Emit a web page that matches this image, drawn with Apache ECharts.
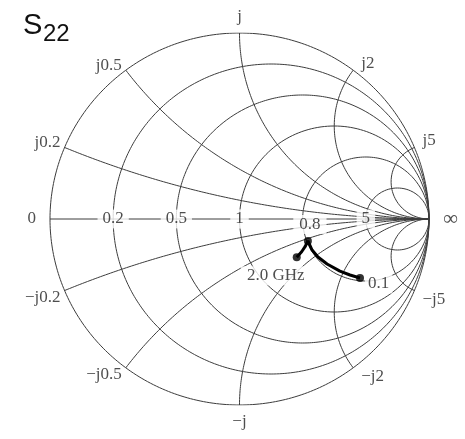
<!DOCTYPE html>
<html>
<head>
<meta charset="utf-8">
<title>S22</title>
<style>
  html, body { margin: 0; padding: 0; background: #fff; }
  #chart { width: 465px; height: 439px; }
</style>
</head>
<body>
<div id="chart"></div>
<script src="https://cdn.jsdelivr.net/npm/echarts@6/dist/echarts.min.js"></script>
<script>
// Smith chart grid values
var resistances = [0.2, 0.5, 1, 2, 5];
var resistanceLabels = ['0.2', '0.5', '1', '', '5'];
var reactances = [0.2, 0.5, 1, 2, 5];
var reactanceLabels = ['0.2', '0.5', '', '2', '5'];

// S22 trace, reflection coefficient (real / imag), from 0.1 GHz to 2.0 GHz
var s22Re = [0.636, 0.583, 0.530, 0.462, 0.414, 0.383, 0.361, 0.346, 0.328, 0.302];
var s22Im = [-0.317, -0.301, -0.280, -0.242, -0.204, -0.167, -0.118, -0.149, -0.176, -0.206];
var markIndex = [0, 6, 9];
var markLabels = ['0.1', '0.8', '2.0 GHz'];

var GRID_COLOR = '#3c3c3c';
var SERIF = '"Liberation Serif", "Times New Roman", serif';

// gamma = (z - 1) / (z + 1)
function gamma(r, x) {
  var a = r - 1, c = r + 1;
  var den = c * c + x * x;
  return [(a * c + x * x) / den, (x * c - a * x) / den];
}

function gridLine(points) {
  return {
    type: 'line', data: points, showSymbol: false, silent: true,
    animation: false, z: 1,
    lineStyle: { color: GRID_COLOR, width: 1 }
  };
}

var series = [];

// outer circle and constant-resistance circles
[0].concat(resistances).forEach(function (r) {
  var pts = [];
  var cx = r / (r + 1), rad = 1 / (r + 1);
  for (var i = 0; i <= 360; i++) {
    var t = i * Math.PI / 180;
    pts.push([cx + rad * Math.cos(t), rad * Math.sin(t)]);
  }
  series.push(gridLine(pts));
});

// constant-reactance arcs
reactances.forEach(function (x) {
  [x, -x].forEach(function (xx) {
    var pts = [];
    for (var i = 0; i < 400; i++) {
      var s = i / 400;
      pts.push(gamma(s / (1 - s), xx));
    }
    pts.push([1, 0]);
    series.push(gridLine(pts));
  });
});

// real axis
series.push(gridLine([[-1, 0], [1, 0]]));

// labels on the real axis
var axisLabelData = [
  { value: [-1, 0], label: { formatter: '0', position: 'left', distance: 9, backgroundColor: 'transparent' } },
  { value: [1, 0], label: { formatter: '\u221e', position: 'right', distance: 9, fontSize: 21, backgroundColor: 'transparent' } }
];
resistances.forEach(function (r, i) {
  if (!resistanceLabels[i]) return;
  axisLabelData.push({ value: [(r - 1) / (r + 1), 0], label: { formatter: resistanceLabels[i] } });
});
series.push({
  type: 'scatter', data: axisLabelData, symbolSize: 0, silent: true, animation: false, z: 3,
  label: {
    show: true, position: 'inside', color: '#222', fontFamily: SERIF, fontSize: 17,
    backgroundColor: '#fff', padding: [1, 5]
  }
});

// labels at the ends of the reactance arcs
var reactLabelData = [];
reactances.forEach(function (x, i) {
  [1, -1].forEach(function (sg) {
    var p = gamma(0, sg * x);
    var txt = (sg > 0 ? 'j' : '\u2212j') + reactanceLabels[i];
    var pos, off = [0, 0], dist = 5;
    if (p[0] < -0.1) { pos = 'left'; dist = 4; off = [0, sg > 0 ? -5 : 7]; }
    else if (p[0] > 0.1) { pos = 'right'; dist = 8; off = [0, sg > 0 ? -7 : 9]; }
    else { pos = sg > 0 ? 'top' : 'bottom'; dist = 8; }
    reactLabelData.push({ value: p, label: { formatter: txt, position: pos, distance: dist, offset: off } });
  });
});
series.push({
  type: 'scatter', data: reactLabelData, symbolSize: 0, silent: true, animation: false, z: 3,
  label: { show: true, color: '#222', fontFamily: SERIF, fontSize: 17 }
});

// S22 trace
var trace = s22Re.map(function (v, i) { return [v, s22Im[i]]; });
series.push({
  type: 'line', data: trace, showSymbol: false, silent: true, animation: false, z: 5,
  lineStyle: { color: '#000', width: 3 }
});
series.push({
  type: 'scatter', silent: true, animation: false, z: 6,
  symbolSize: 8, itemStyle: { color: '#000' },
  data: markIndex.map(function (k, j) {
    var lab = [
      { position: 'right', distance: 1, offset: [0, 6], padding: [1, 3] },
      { position: 'top', distance: 3, offset: [2, 0] },
      { position: 'bottom', distance: 4, offset: [-21, 1] }
    ][j];
    lab.formatter = markLabels[j];
    return { value: trace[k], label: lab };
  }),
  label: {
    show: true, color: '#222', fontFamily: SERIF, fontSize: 17,
    backgroundColor: '#fff', padding: [1, 6]
  }
});

var chart = echarts.init(document.getElementById('chart'));
chart.setOption({
  animation: false,
  grid: { left: 50, top: 33, width: 379, height: 372 },
  xAxis: { type: 'value', min: -1, max: 1, show: false },
  yAxis: { type: 'value', min: -1, max: 1, show: false },
  graphic: [
    { type: 'text', left: 23, top: 11, style: { text: 'S', font: '29px "Liberation Sans", Arial, sans-serif', fill: '#111' } },
    { type: 'text', left: 43, top: 22, style: { text: '22', font: '24px "Liberation Sans", Arial, sans-serif', fill: '#111' } }
  ],
  series: series
});
</script>
</body>
</html>
